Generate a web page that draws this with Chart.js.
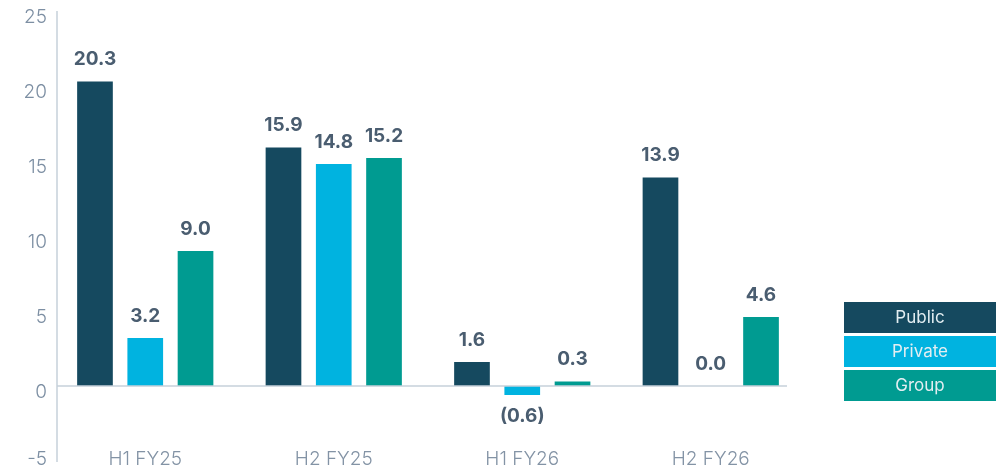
<!DOCTYPE html>
<html>
<head>
<meta charset="utf-8">
<script src="https://cdn.jsdelivr.net/npm/chart.js@4"></script>
<style>
  html, body { margin: 0; padding: 0; background: #fff; }
  #wrap { position: relative; width: 1007px; height: 469px; }
  #chart { display: block; }
  #legend { position: absolute; left: 844px; top: 302px; width: 152px; }
  .item { box-sizing: border-box; height: 31px; padding-top: 5px; line-height: 20px;
          margin-bottom: 3px; text-align: center; color: #e3eef2;
          font-family: Inter, sans-serif; font-size: 17px; }
</style>
</head>
<body>
<div id="wrap">
  <canvas id="chart" width="1007" height="469"></canvas>
  <div id="legend"></div>
</div>
<script>
var categories = ["H1 FY25", "H2 FY25", "H1 FY26", "H2 FY26"];
var publicVals = [20.3, 15.9, 1.6, 13.9];
var privateVals = [3.2, 14.8, -0.6, 0.0];
var groupVals = [9.0, 15.2, 0.3, 4.6];
var yTicks = [-5, 0, 5, 10, 15, 20, 25];

var colors = ["#15495f", "#00b3e0", "#009b91"];

function fmt(v) {
  return v < 0 ? "(" + Math.abs(v).toFixed(1) + ")" : v.toFixed(1);
}

var extras = {
  id: "extras",
  afterDatasetsDraw: function (chart) {
    var ctx = chart.ctx;
    var x = chart.scales.x, y = chart.scales.y;
    var axisX = x.left + 6;
    ctx.save();
    // axis line and zero line
    ctx.strokeStyle = "#c6d0da";
    ctx.lineWidth = 1.5;
    ctx.beginPath();
    ctx.moveTo(axisX, y.top);
    ctx.lineTo(axisX, y.bottom + 1);
    ctx.stroke();
    var zy = y.getPixelForValue(0);
    ctx.beginPath();
    ctx.moveTo(axisX, zy);
    ctx.lineTo(x.right - 18, zy);
    ctx.stroke();
    // y tick labels, sitting a little below their values
    ctx.fillStyle = "#7d8fa3";
    ctx.font = "300 19px Inter, sans-serif";
    ctx.textAlign = "right";
    ctx.textBaseline = "middle";
    yTicks.forEach(function (v) {
      var py = Math.min(y.getPixelForValue(v) + 6, chart.height - 10);
      ctx.fillText(String(v), x.left - 4, py);
    });
    // value labels
    ctx.fillStyle = "#4a5d70";
    ctx.font = "bold 19px Inter, sans-serif";
    ctx.textAlign = "center";
    chart.data.datasets.forEach(function (ds, di) {
      chart.getDatasetMeta(di).data.forEach(function (bar, i) {
        var v = ds.data[i];
        var py = v < 0 ? bar.y + 21 : bar.y - 22;
        ctx.fillText(fmt(v), bar.x, py);
      });
    });
    // category labels
    ctx.fillStyle = "#8393a5";
    ctx.font = "300 19px Inter, sans-serif";
    ctx.textBaseline = "alphabetic";
    categories.forEach(function (c, i) {
      ctx.fillText(c, x.getPixelForValue(i), y.bottom + 4);
    });
    ctx.restore();
  }
};

var chart = new Chart(document.getElementById("chart").getContext("2d"), {
  type: "bar",
  data: {
    labels: categories,
    datasets: [
      { label: "Public", data: publicVals, backgroundColor: colors[0] },
      { label: "Private", data: privateVals, backgroundColor: colors[1] },
      { label: "Group", data: groupVals, backgroundColor: colors[2] }
    ]
  },
  options: {
    responsive: false,
    animation: false,
    barPercentage: 0.71,
    categoryPercentage: 0.8,
    layout: { padding: { top: 11, bottom: 8, right: 202, left: 0 } },
    plugins: { legend: { display: false }, tooltip: { enabled: false } },
    scales: {
      x: { display: false },
      y: {
        min: -5,
        max: 25,
        afterFit: function (s) {
          s.width = 51;
          s.paddingTop = 0;
          s.paddingBottom = 0;
        },
        afterBuildTicks: function (s) { s.ticks = yTicks.map(function (v) { return { value: v }; }); },
        grid: { display: false },
        border: { display: false },
        ticks: { display: false }
      }
    }
  },
  plugins: [extras]
});

var legend = document.getElementById("legend");
chart.data.datasets.forEach(function (ds) {
  var d = document.createElement("div");
  d.className = "item";
  d.style.background = ds.backgroundColor;
  d.textContent = ds.label;
  legend.appendChild(d);
});
</script>
</body>
</html>
